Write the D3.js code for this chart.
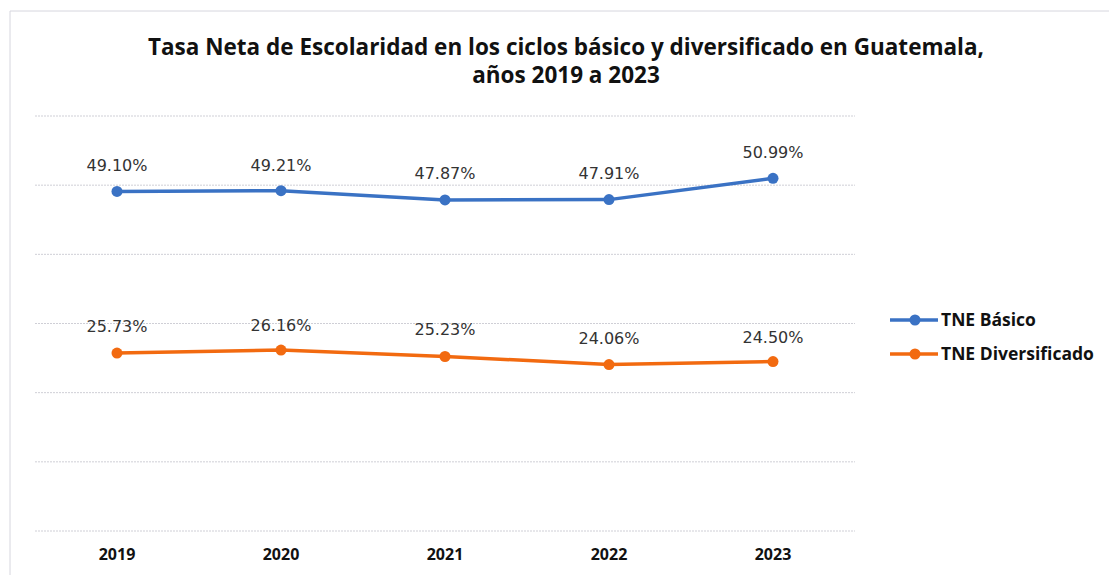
<!DOCTYPE html>
<html>
<head>
<meta charset="utf-8">
<script src="https://cdn.jsdelivr.net/npm/d3@7"></script>
<style>
  body { margin: 0; background: #fff; }
  svg { display: block; }
</style>
</head>
<body>
<svg id="chart" width="1109" height="575"></svg>
<script>
// chart data
var years = ["2019", "2020", "2021", "2022", "2023"];
var basico = [49.10, 49.21, 47.87, 47.91, 50.99];
var diversificado = [25.73, 26.16, 25.23, 24.06, 24.50];
var seriesNames = ["TNE Básico", "TNE Diversificado"];
var gridTicks = [0, 10, 20, 30, 40, 50, 60];

var svg = d3.select("#chart");
var W = 1109, H = 575;

// outer frame (only top and left visible in the scan)
svg.append("line").attr("x1", 10).attr("x2", W).attr("y1", 11).attr("y2", 11)
  .attr("stroke", "#d6d6de").attr("stroke-width", 1);
svg.append("line").attr("x1", 10).attr("x2", 10).attr("y1", 11).attr("y2", H)
  .attr("stroke", "#d6d6de").attr("stroke-width", 1);

var x = d3.scaleBand().domain(years).range([35, 855]);
var y = d3.scaleLinear().domain([0, 60]).range([531, 116]);

// gridlines
svg.append("g").selectAll("line").data(gridTicks).enter().append("line")
  .attr("x1", 35).attr("x2", 855)
  .attr("y1", d => y(d)).attr("y2", d => y(d))
  .attr("stroke", "#cfcfd6").attr("stroke-width", 1).attr("stroke-dasharray", "2,1");

// title
var title = svg.append("text").attr("text-anchor", "middle")
  .attr("font-family", "'Open Sans', sans-serif").attr("font-weight", "bold")
  .attr("font-size", 22.5).attr("fill", "#111");
title.append("tspan").attr("x", 566).attr("y", 55)
  .text("Tasa Neta de Escolaridad  en los ciclos básico y diversificado en Guatemala,");
title.append("tspan").attr("x", 566).attr("y", 83).text("años 2019 a 2023");

// x axis labels
var xAxis = d3.axisBottom(x).tickSize(0).tickPadding(0);
var gx = svg.append("g").attr("transform", "translate(0,546)").call(xAxis);
gx.select(".domain").remove();
gx.selectAll("text")
  .attr("font-family", "'Open Sans', sans-serif").attr("font-weight", "bold")
  .attr("font-size", 16).attr("fill", "#111").attr("dy", "0.9em");

var colors = ["#3a72c4", "#f26a10"];
var allSeries = [basico, diversificado];
var labelDy = [[-20, -20, -21, -21, -20], [-21, -19, -21, -21, -19]];

var line = d3.line()
  .x((d, i) => x(years[i]) + x.bandwidth() / 2)
  .y(d => y(d));

allSeries.forEach(function(vals, s){
  var g = svg.append("g");
  g.append("path").datum(vals)
    .attr("d", line).attr("fill", "none")
    .attr("stroke", colors[s]).attr("stroke-width", 3.5)
    .attr("stroke-linejoin", "round");
  g.selectAll("circle").data(vals).enter().append("circle")
    .attr("cx", (d, i) => x(years[i]) + x.bandwidth() / 2)
    .attr("cy", d => y(d)).attr("r", 5.5)
    .attr("fill", colors[s]);
  g.selectAll("text").data(vals).enter().append("text")
    .attr("x", (d, i) => x(years[i]) + x.bandwidth() / 2)
    .attr("y", (d, i) => y(d) + labelDy[s][i])
    .attr("text-anchor", "middle")
    .attr("font-family", "'DejaVu Sans', sans-serif").attr("font-size", 16)
    .attr("fill", "#333")
    .text(d => d.toFixed(2) + "%");
});

// legend
var legend = svg.append("g");
seriesNames.forEach(function(name, s){
  var ly = 320 + s * 34;
  legend.append("line").attr("x1", 890).attr("x2", 938).attr("y1", ly).attr("y2", ly)
    .attr("stroke", colors[s]).attr("stroke-width", 3.5);
  legend.append("circle").attr("cx", 915).attr("cy", ly).attr("r", 5.5).attr("fill", colors[s]);
  legend.append("text").attr("x", 941).attr("y", ly + 6)
    .attr("font-family", "'Open Sans', sans-serif").attr("font-weight", "bold")
    .attr("font-size", 17.5).attr("fill", "#111").text(name);
});
</script>
</body>
</html>
